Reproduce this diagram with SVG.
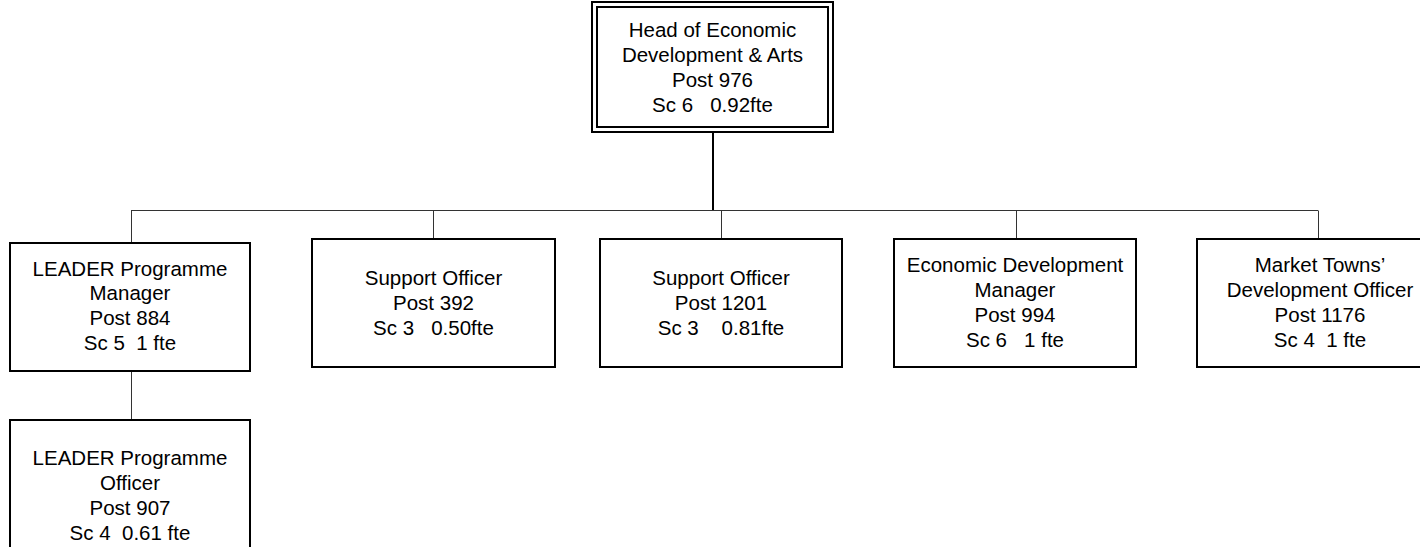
<svg xmlns="http://www.w3.org/2000/svg" width="1420" height="547" viewBox="0 0 1420 547">
  <style>
    .box { fill: #ffffff; stroke: #000000; stroke-width: 2; }
    .frame { fill: none; stroke: #000000; stroke-width: 2; }
    .lbl { font-family: "Liberation Sans", Arial, sans-serif; font-size: 20.5px; fill: #000000; text-anchor: middle; }
    .link { fill: none; stroke: #333333; stroke-width: 1; }
    .trunk { fill: none; stroke: #000000; stroke-width: 2; }
  </style>
  <rect width="1420" height="547" fill="#ffffff"/>

  <g id="connectors">
    <line class="trunk" x1="713" y1="132" x2="713" y2="211"/>
    <line class="link" x1="131" y1="210.5" x2="1318" y2="210.5"/>
    <line class="link" x1="131.5" y1="210.5" x2="131.5" y2="243"/>
    <line class="link" x1="433.5" y1="210.5" x2="433.5" y2="239"/>
    <line class="link" x1="721.5" y1="210.5" x2="721.5" y2="239"/>
    <line class="link" x1="1016.5" y1="210.5" x2="1016.5" y2="239"/>
    <line class="link" x1="1318.5" y1="210.5" x2="1318.5" y2="239"/>
    <line class="link" x1="131.5" y1="371" x2="131.5" y2="420"/>
  </g>

  <g id="head">
    <rect class="box" x="592" y="2" width="241" height="130"/>
    <rect class="frame" x="597" y="7" width="231" height="120"/>
    <text class="lbl" x="712.5" y="37">Head of Economic</text>
    <text class="lbl" x="712.5" y="62">Development &amp; Arts</text>
    <text class="lbl" x="712.5" y="87">Post 976</text>
    <text class="lbl" x="712.5" y="112" xml:space="preserve">Sc 6   0.92fte</text>
  </g>

  <g id="leader-manager">
    <rect class="box" x="10" y="243" width="240" height="128"/>
    <text class="lbl" x="130" y="276">LEADER Programme</text>
    <text class="lbl" x="130" y="300">Manager</text>
    <text class="lbl" x="130" y="325">Post 884</text>
    <text class="lbl" x="130" y="350" xml:space="preserve">Sc 5  1 fte</text>
  </g>

  <g id="leader-officer">
    <rect class="box" x="10" y="420" width="240" height="140"/>
    <text class="lbl" x="130" y="465">LEADER Programme</text>
    <text class="lbl" x="130" y="490">Officer</text>
    <text class="lbl" x="130" y="515">Post 907</text>
    <text class="lbl" x="130" y="540" xml:space="preserve">Sc 4  0.61 fte</text>
  </g>

  <g id="support-392">
    <rect class="box" x="312" y="239" width="243" height="128"/>
    <text class="lbl" x="433.5" y="285">Support Officer</text>
    <text class="lbl" x="433.5" y="310">Post 392</text>
    <text class="lbl" x="433.5" y="335" xml:space="preserve">Sc 3   0.50fte</text>
  </g>

  <g id="support-1201">
    <rect class="box" x="600" y="239" width="242" height="128"/>
    <text class="lbl" x="721" y="285">Support Officer</text>
    <text class="lbl" x="721" y="310">Post 1201</text>
    <text class="lbl" x="721" y="335" xml:space="preserve">Sc 3    0.81fte</text>
  </g>

  <g id="econ-dev-manager">
    <rect class="box" x="894" y="239" width="242" height="128"/>
    <text class="lbl" x="1015" y="272">Economic Development</text>
    <text class="lbl" x="1015" y="297">Manager</text>
    <text class="lbl" x="1015" y="322">Post 994</text>
    <text class="lbl" x="1015" y="347" xml:space="preserve">Sc 6   1 fte</text>
  </g>

  <g id="market-towns">
    <rect class="box" x="1197" y="239" width="250" height="128"/>
    <text class="lbl" x="1320" y="272">Market Towns’</text>
    <text class="lbl" x="1320" y="297">Development Officer</text>
    <text class="lbl" x="1320" y="322">Post 1176</text>
    <text class="lbl" x="1320" y="347" xml:space="preserve">Sc 4  1 fte</text>
  </g>
</svg>
